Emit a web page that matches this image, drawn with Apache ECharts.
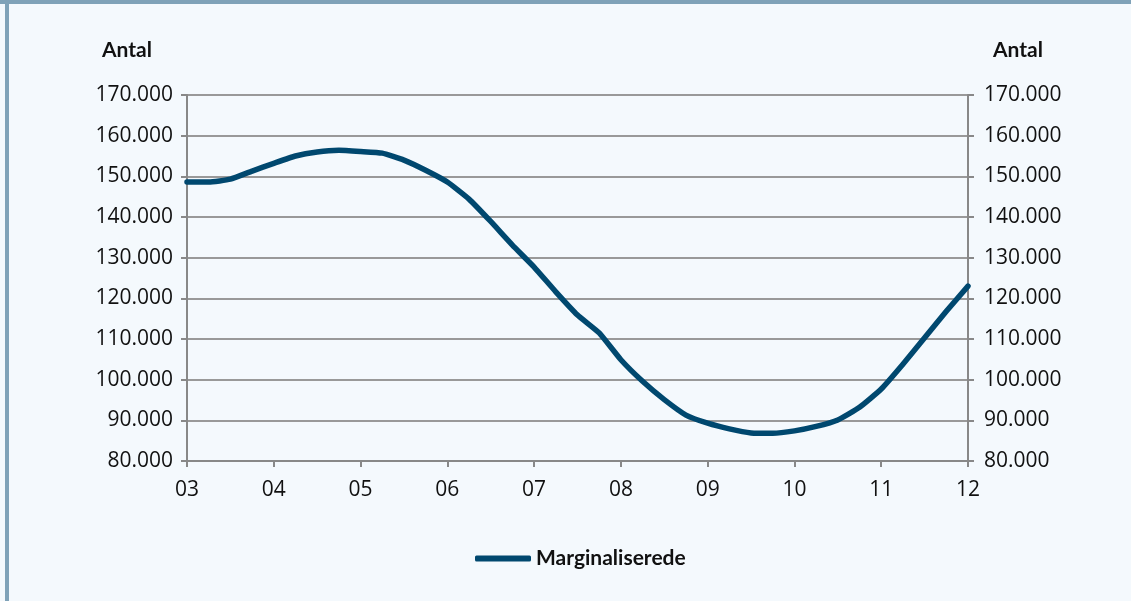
<!DOCTYPE html>
<html>
<head>
<meta charset="utf-8">
<script src="https://cdn.jsdelivr.net/npm/echarts@6/dist/echarts.min.js"></script>
<style>
  html, body { margin: 0; padding: 0; background: #f4f9fd; }
  .topbar { position: absolute; left: 0; top: 0; width: 1131px; height: 4px; background: #7fa2b8; }
  .leftbar { position: absolute; left: 5px; top: 0; width: 4px; height: 601px; background: #7fa2b8; }
  #chart { position: absolute; left: 0; top: 0; width: 1131px; height: 601px; }
</style>
</head>
<body>
<div class="topbar"></div>
<div class="leftbar"></div>
<div id="chart"></div>
<script>
// kvartaler 2003 - 2012
const quarters = [
  "03K1", "03K2", "03K3", "03K4",
  "04K1", "04K2", "04K3", "04K4",
  "05K1", "05K2", "05K3", "05K4",
  "06K1", "06K2", "06K3", "06K4",
  "07K1", "07K2", "07K3", "07K4",
  "08K1", "08K2", "08K3", "08K4",
  "09K1", "09K2", "09K3", "09K4",
  "10K1", "10K2", "10K3", "10K4",
  "11K1", "11K2", "11K3", "11K4",
  "12K1"
];
// Marginaliserede, antal personer
const marginaliserede = [
  148600, 148600, 149300, 151300,
  153200, 155000, 156000, 156400,
  156100, 155700, 154000, 151500,
  148600, 144400, 138900, 133100,
  127700, 121600, 115900, 111500,
  104900, 99600, 95100, 91300,
  89300, 87900, 86900, 86800,
  87400, 88500, 90100, 93200,
  97700, 103800, 110300, 116800,
  123000
];
const yTicks = { min: 80000, max: 170000, interval: 10000 };

const fmt = (v) => (v / 1000).toFixed(0) + ".000";
const tickFont = { fontFamily: "Open Sans", fontSize: 21, color: "#111" };

const myChart = echarts.init(document.getElementById("chart"));
const option = {
  animation: false,
  grid: { left: 187, right: 163, top: 95, bottom: 140 },
  graphic: [
    { type: "text", left: 102, top: 40, style: { text: "Antal", font: "bold 21px Lato", fill: "#111" } },
    { type: "text", left: 993, top: 40, style: { text: "Antal", font: "bold 21px Lato", fill: "#111" } }
  ],
  legend: {
    bottom: 27,
    left: 470,
    itemWidth: 56,
    itemHeight: 6,
    itemGap: 4,
    icon: "roundRect",
    textStyle: { fontFamily: "Lato", fontWeight: "bold", fontSize: 21, color: "#111" },
    data: ["Marginaliserede"]
  },
  xAxis: {
    type: "category",
    boundaryGap: false,
    data: quarters,
    axisLine: { lineStyle: { color: "#888", width: 2 } },
    axisTick: { show: true, length: 6, interval: (i) => i % 4 === 0, lineStyle: { color: "#888", width: 2 } },
    axisLabel: {
      interval: (i) => i % 4 === 0,
      formatter: (v) => v.slice(0, 2),
      margin: 19,
      ...tickFont
    },
    splitLine: { show: false }
  },
  yAxis: [
    {
      type: "value",
      position: "left",
      ...yTicks,
      axisLine: { show: true, lineStyle: { color: "#888", width: 2 } },
      axisTick: { show: true, length: 6, lineStyle: { color: "#888", width: 2 } },
      axisLabel: { formatter: fmt, margin: 14, ...tickFont },
      splitLine: { show: true, lineStyle: { color: "#999", width: 2 } }
    },
    {
      type: "value",
      position: "right",
      ...yTicks,
      axisLine: { show: true, lineStyle: { color: "#888", width: 2 } },
      axisTick: { show: true, length: 6, lineStyle: { color: "#888", width: 2 } },
      axisLabel: { formatter: fmt, margin: 16, ...tickFont },
      splitLine: { show: false }
    }
  ],
  series: [
    {
      name: "Marginaliserede",
      type: "line",
      yAxisIndex: 0,
      data: marginaliserede,
      smooth: 0.15,
      symbol: "none",
      lineStyle: { color: "#00486f", width: 5.5, cap: "round", join: "round" },
      itemStyle: { color: "#00486f" }
    }
  ]
};
myChart.setOption(option);
</script>
</body>
</html>
